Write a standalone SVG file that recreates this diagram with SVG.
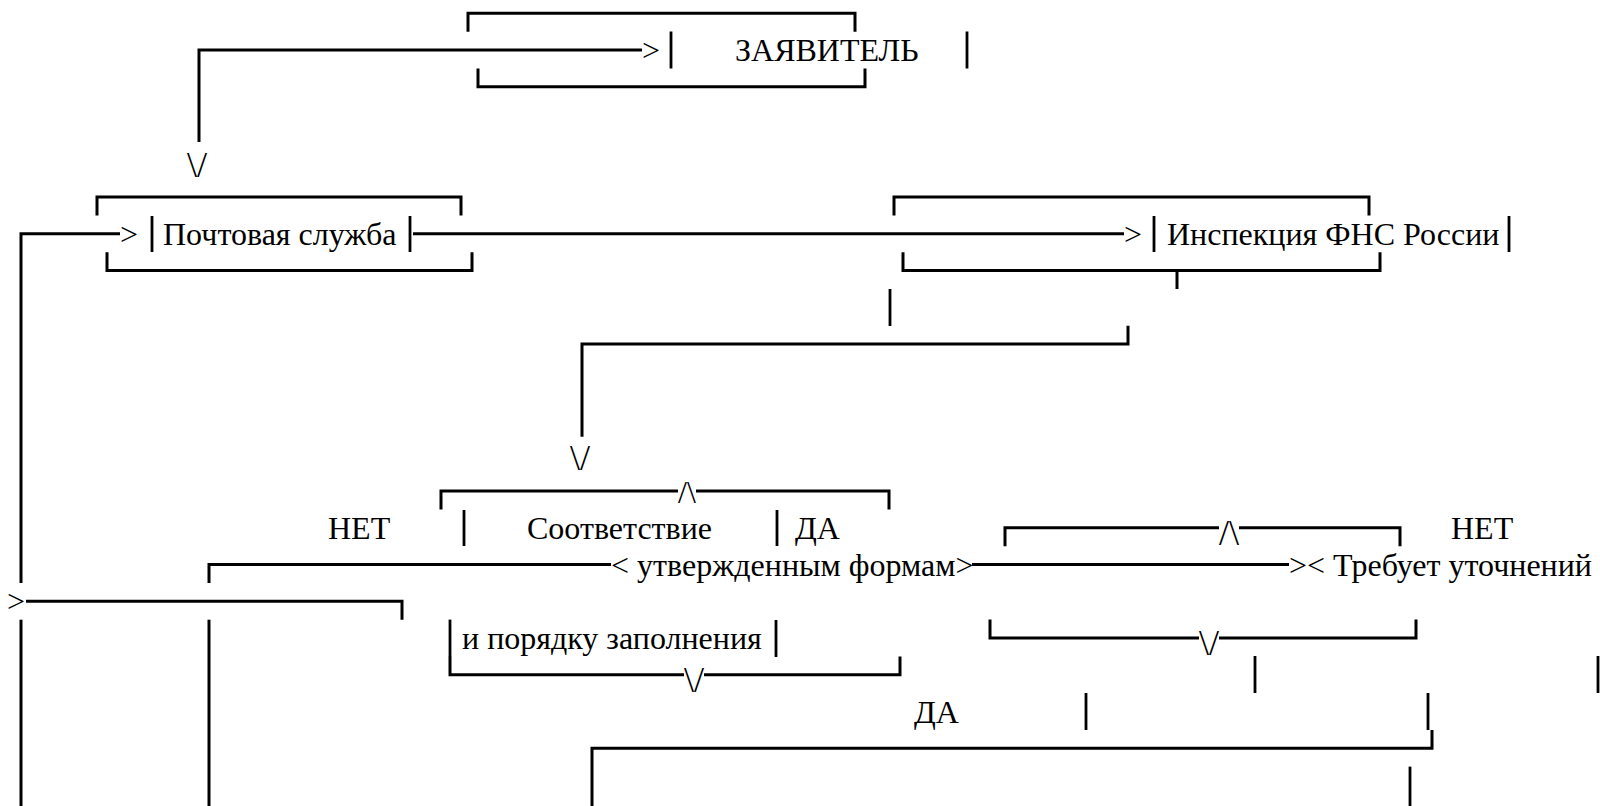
<svg xmlns="http://www.w3.org/2000/svg" width="1600" height="806" viewBox="0 0 1600 806">
<style>
.ln{fill:none;stroke:#000;stroke-width:3;stroke-linecap:butt;stroke-linejoin:miter}
.bar{stroke:#000;stroke-width:2.8}
.t{font-family:"Liberation Serif","Times New Roman",serif;font-size:32px;fill:#000}
.ar{font-family:"Liberation Serif","Times New Roman",serif;font-size:36px;fill:#000;text-anchor:middle}
.ar2{font-family:"Liberation Serif","Times New Roman",serif;font-size:32px;fill:#000;text-anchor:middle}
</style>
<rect width="1600" height="806" fill="#fff"/>
<g id="node-zayavitel">
<path class="ln" d="M468,31.7 V13.3 H855 V31.7"/>
<line class="bar" x1="671" y1="31.5" x2="671" y2="68.5"/>
<text class="t" x="735" y="61">ЗАЯВИТЕЛЬ</text>
<line class="bar" x1="967" y1="31.5" x2="967" y2="68.5"/>
<path class="ln" d="M478,68.4 V86.8 H865 V68.4"/>
</g>
<g id="node-pochta">
<path class="ln" d="M97,215.4 V197 H461 V215.4"/>
<line class="bar" x1="152" y1="216" x2="152" y2="252"/>
<text class="t" x="163" y="245">Почтовая служба</text>
<line class="bar" x1="410" y1="216" x2="410" y2="252"/>
<path class="ln" d="M107,252.2 V270.5 H472 V252.2"/>
</g>
<g id="node-inspekciya">
<path class="ln" d="M894,215.4 V197 H1369 V215.4"/>
<line class="bar" x1="1154" y1="216" x2="1154" y2="252"/>
<text class="t" x="1167" y="245">Инспекция ФНС России</text>
<line class="bar" x1="1509" y1="216" x2="1509" y2="252"/>
<path class="ln" d="M903,252.2 V270.5 H1380 V252.2"/>
</g>
<g id="node-sootvetstvie">
<path class="ln" d="M441,509.4 V491 H678"/>
<text class="ar2" x="687" y="503">/\</text>
<path class="ln" d="M696,491 H889 V509.4"/>
<line class="bar" x1="464" y1="510" x2="464" y2="546"/>
<text class="t" x="527" y="539">Соответствие</text>
<line class="bar" x1="777" y1="510" x2="777" y2="546"/>
<text class="t" x="611" y="575.5">&lt; утвержденным формам&gt;</text>
<line class="bar" x1="450" y1="619.6" x2="450" y2="656"/>
<text class="t" x="462" y="649">и порядку заполнения</text>
<line class="bar" x1="776" y1="620" x2="776" y2="657"/>
<path class="ln" d="M450,656 V674.8 H684"/>
<text class="ar" x="694" y="692">\/</text>
<path class="ln" d="M704,674.8 H900 V656.4"/>
</g>
<g id="node-utochnenie">
<path class="ln" d="M1005,546.2 V527.8 H1219"/>
<text class="ar" x="1229" y="545">/\</text>
<path class="ln" d="M1239,527.8 H1400 V546.2"/>
<text class="t" x="1289" y="575.5">&gt;&lt; Требует уточнений</text>
<path class="ln" d="M990,619.6 V638 H1199"/>
<text class="ar" x="1209" y="655">\/</text>
<path class="ln" d="M1219,638 H1416 V619.6"/>
</g>
<g id="connectors">
<path class="ln" d="M642,50 H199 V142"/>
<text class="t" x="642" y="61">&gt;</text>
<text class="ar" x="197" y="177">\/</text>
<path class="ln" d="M120,233.8 H21 V582.9"/>
<path class="ln" d="M21,619.7 V806"/>
<text class="t" x="120" y="245">&gt;</text>
<path class="ln" d="M413,233.8 H1124"/>
<text class="t" x="1124" y="245">&gt;</text>
<path class="ln" d="M1177,270.5 V289"/>
<line class="bar" x1="890" y1="289" x2="890" y2="326"/>
<path class="ln" d="M1128,325.7 V344 H582 V436.7"/>
<text class="ar" x="580" y="470">\/</text>
<text class="t" x="328" y="539">НЕТ</text>
<text class="t" x="795" y="539">ДА</text>
<path class="ln" d="M209,582.9 V564.55 H611"/>
<path class="ln" d="M972,564.55 H1289"/>
<text class="t" x="1451" y="539">НЕТ</text>
<text class="t" x="7" y="612">&gt;</text>
<path class="ln" d="M26,601.3 H402 V619.7"/>
<path class="ln" d="M209,619.7 V806"/>
<line class="bar" x1="1255" y1="656" x2="1255" y2="693"/>
<line class="bar" x1="1598" y1="656" x2="1598" y2="693"/>
<text class="t" x="914" y="722.5">ДА</text>
<line class="bar" x1="1086" y1="693" x2="1086" y2="730"/>
<line class="bar" x1="1428" y1="693" x2="1428" y2="730"/>
<path class="ln" d="M592,806 V748.3 H1432 V730"/>
<line class="bar" x1="1410" y1="766.6" x2="1410" y2="806"/>
</g>
</svg>
